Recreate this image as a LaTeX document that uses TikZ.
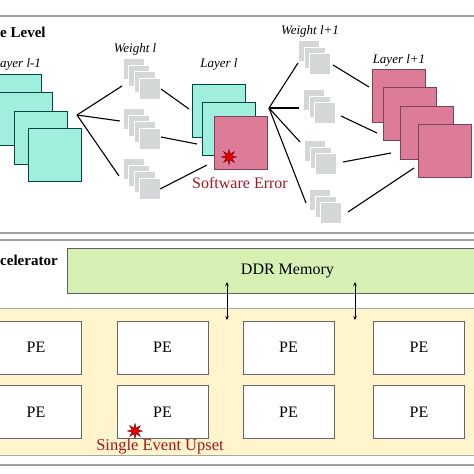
\documentclass[tikz,border=0pt]{standalone}
\usepackage{fontspec}
\setmainfont{Liberation Serif}
\usetikzlibrary{arrows.meta,shapes.geometric}

\definecolor{fmcyan}{RGB}{160,238,222}
\definecolor{fmpink}{RGB}{221,124,152}
\definecolor{fmgray}{RGB}{211,215,215}
\definecolor{memgreen}{RGB}{214,240,180}
\definecolor{arryellow}{RGB}{255,244,204}
\definecolor{errred}{RGB}{165,22,32}
\definecolor{panelgray}{RGB}{160,160,160}

\begin{document}
\begin{tikzpicture}[x=1pt, y=-1pt,
  fmap/.style={rectangle, anchor=north west, inner sep=0pt, minimum size=53pt, line width=0.8pt},
  feat/.style={fmap, fill=fmcyan, draw=teal!55!black},
  errmap/.style={fmap, fill=fmpink, draw=fmpink!55!black},
  wsq/.style={rectangle, anchor=north west, inner sep=0pt, minimum size=21pt,
              fill=fmgray, draw=white, line width=0.6pt},
  pe/.style={rectangle, inner sep=0pt, minimum width=91pt, minimum height=53pt,
             fill=white, draw=gray!80!black, line width=0.8pt,
             font=\fontsize{16}{18}\selectfont},
  lbl/.style={inner sep=0pt, font=\fontsize{13}{15}\selectfont\itshape},
  ttl/.style={inner sep=0pt, anchor=west, font=\fontsize{15}{17}\selectfont\bfseries},
  errtxt/.style={inner sep=0pt, text=errred, font=\fontsize{16}{18}\selectfont},
  seu/.style={star, star points=8, star point ratio=2.4, minimum size=15pt, inner sep=0pt,
              fill=red!90!black, draw=red!45!black, line width=0.4pt},
  conn/.style={line width=1.1pt, black},
  biarr/.style={{Stealth[length=4pt,width=3.5pt]}-{Stealth[length=4pt,width=3.5pt]}, line width=0.8pt}
]
\useasboundingbox (0,0) rectangle (474,474);
\clip (0,0) rectangle (474,474);

% panels
\draw[panelgray, line width=1.4pt] (-5,16) rectangle (480,233);
\draw[panelgray, line width=1.4pt] (-5,240) rectangle (480,465);
\draw[fill=arryellow, draw=gray!70, line width=0.8pt] (-5,308) rectangle (480,455);

% software level
\node[ttl] (swlvl) at (0,32) {e Level};

\node[lbl, anchor=west] (lprev) at (0,64) {ayer l-1};
\node[feat] (p1) at (-12,74) {};
\node[feat] (p2) at (-1,92) {};
\node[feat] (p3) at (14,111) {};
\node[feat] (p4) at (28,128) {};

\node[lbl] (wl) at (135,49) {Weight l};
\node[wsq] (a1) at (123,58) {};
\node[wsq] (a2) at (128.3,64.7) {};
\node[wsq] (a3) at (133.7,71.3) {};
\node[wsq] (a4) at (139,78) {};
\node[wsq] (b1) at (123,108) {};
\node[wsq] (b2) at (128.3,114.7) {};
\node[wsq] (b3) at (133.7,121.3) {};
\node[wsq] (b4) at (139,128) {};
\node[wsq] (c1) at (123,158) {};
\node[wsq] (c2) at (128.3,164.7) {};
\node[wsq] (c3) at (133.7,171.3) {};
\node[wsq] (c4) at (139,178) {};

\node[lbl] (lcur) at (219,64) {Layer l};
\node[feat] (q1) at (192,84) {};
\node[feat] (q2) at (202,102) {};
\node[errmap] (q3) at (214,116) {};
\node[seu] (swstar) at (229,157) {};
\node[errtxt] (swerr) at (240,183) {Software Error};

\node[lbl] (wnext) at (310,31) {Weight l+1};
\node[wsq] (d1) at (298,40) {};
\node[wsq] (d2) at (303.5,46.5) {};
\node[wsq] (d3) at (309,53) {};
\node[wsq] (e1) at (303,89) {};
\node[wsq] (e2) at (308.5,95.5) {};
\node[wsq] (e3) at (314,102) {};
\node[wsq] (f1) at (304,140) {};
\node[wsq] (f2) at (309.5,146.5) {};
\node[wsq] (f3) at (315,153) {};
\node[wsq] (g1) at (309,189) {};
\node[wsq] (g2) at (314.5,195.5) {};
\node[wsq] (g3) at (320,202) {};

\node[lbl] (lnext) at (399,60) {Layer l+1};
\node[errmap] (r1) at (372,69) {};
\node[errmap] (r2) at (383,87) {};
\node[errmap] (r3) at (400,106) {};
\node[errmap] (r4) at (418,124) {};

% connections
\coordinate (fan1) at (77,115);
\coordinate (ain) at (122,86);
\coordinate (bin) at (120,121);
\coordinate (cin) at (119,176);
\coordinate (aout) at (161,89);
\coordinate (bout) at (161,137);
\coordinate (cout) at (160,189);
\coordinate (q1in) at (189,109);
\coordinate (q2in) at (197,144);
\coordinate (q3in) at (207,165);
\draw[conn] (fan1) -- (ain);
\draw[conn] (fan1) -- (bin);
\draw[conn] (fan1) -- (cin);
\draw[conn] (aout) -- (q1in);
\draw[conn] (bout) -- (q2in);
\draw[conn] (cout) -- (q3in);

\coordinate (fan2) at (269,108);
\coordinate (din) at (298,63);
\coordinate (ein) at (299,108);
\coordinate (fin) at (300,142);
\coordinate (gin) at (306,203);
\coordinate (dout) at (333,65);
\coordinate (eout) at (341,116);
\coordinate (fout) at (343,162);
\coordinate (gout) at (348,212);
\coordinate (r1in) at (369,87);
\coordinate (r2in) at (377,133);
\coordinate (r3in) at (391,153);
\coordinate (r4in) at (414,168);
\draw[conn] (fan2) -- (din);
\draw[conn] (fan2) -- (ein);
\draw[conn] (fan2) -- (fin);
\draw[conn] (fan2) -- (gin);
\draw[conn] (dout) -- (r1in);
\draw[conn] (eout) -- (r2in);
\draw[conn] (fout) -- (r3in);
\draw[conn] (gout) -- (r4in);

% accelerator
\node[ttl] (acc) at (0,260) {celerator};
\node[rectangle, anchor=north west, inner sep=0pt, minimum width=440pt, minimum height=45pt,
      fill=memgreen, draw=gray!75!black, line width=0.8pt,
      font=\fontsize{16}{18}\selectfont] (ddr) at (67,248) {DDR Memory};

\node[pe] (pe11) at (36,347.5) {PE};
\node[pe] (pe12) at (162.5,347.5) {PE};
\node[pe] (pe13) at (288.5,347.5) {PE};
\node[pe] (pe14) at (419,347.5) {PE};
\node[pe] (pe21) at (36,412) {PE};
\node[pe] (pe22) at (162.5,412) {PE};
\node[pe] (pe23) at (288.5,412) {PE};
\node[pe] (pe24) at (419,412) {PE};

\coordinate (m1top) at (227,282);
\coordinate (m1bot) at (227,320);
\coordinate (m2top) at (355,282);
\coordinate (m2bot) at (355,320);
\draw[biarr] (m1top) -- (m1bot);
\draw[biarr] (m2top) -- (m2bot);

\node[seu] (hwstar) at (135,431) {};
\node[errtxt, font=\fontsize{16.5}{18}\selectfont] (hwerr) at (160,447) {Single Event Upset};
\end{tikzpicture}
\end{document}
